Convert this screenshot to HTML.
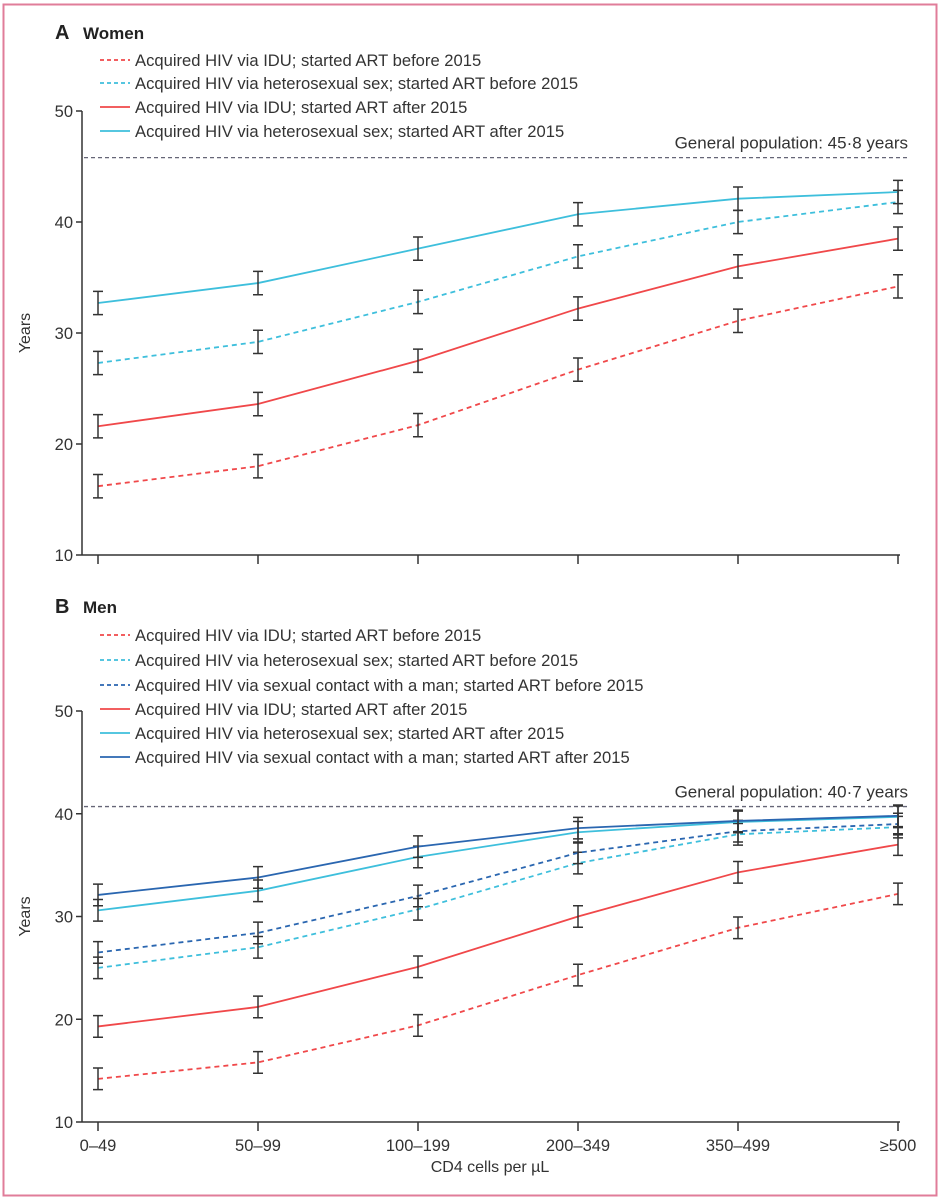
<!DOCTYPE html>
<html><head><meta charset="utf-8"><style>
body{margin:0;background:#fff}
svg{display:block;font-family:"Liberation Sans",sans-serif}
</style></head><body>
<svg id="s" width="941" height="1200" xmlns="http://www.w3.org/2000/svg">
<rect x="3.5" y="4.5" width="933" height="1191" fill="#fff" stroke="#e07d9a" stroke-width="2"/>
</svg>
<script>
const S=document.getElementById('s'),NS='http://www.w3.org/2000/svg';
function el(t,a,txt){const e=document.createElementNS(NS,t);for(const k in a)e.setAttribute(k,a[k]);if(txt!=null)e.textContent=txt;S.appendChild(e);return e;}
const xs=[98,258,418,578,738,898];
const R='#f0484a',L='#3ebfdc',D='#2a66b0';
function panel(top,bot,legend,gen,series,xlabels){
  const y=v=>top+(50-v)*(bot-top)/40;
  el('line',{x1:82,y1:top,x2:82,y2:bot,stroke:'#333','stroke-width':1.5});
  el('line',{x1:82,y1:bot,x2:900,y2:bot,stroke:'#333','stroke-width':1.5});
  [10,20,30,40,50].forEach(v=>{el('line',{x1:76,y1:y(v),x2:82,y2:y(v),stroke:'#333','stroke-width':1.5});
    el('text',{x:73,y:y(v)+6,'font-size':16.5,'text-anchor':'end',fill:'#333'},v);});
  xs.forEach(x=>el('line',{x1:x,y1:bot,x2:x,y2:bot+9,stroke:'#333','stroke-width':1.5}));
  el('text',{x:30,y:(top+bot)/2,'font-size':16,fill:'#333','text-anchor':'middle',transform:`rotate(-90 30 ${(top+bot)/2})`},'Years');
  el('line',{x1:84,y1:y(gen),x2:910,y2:y(gen),stroke:'#667','stroke-width':1.3,'stroke-dasharray':'4 3'});
  el('text',{x:908,y:y(gen)-9,'font-size':17,'text-anchor':'end',fill:'#333'},'General population: '+String(gen).replace('.','·')+' years');
  series.forEach(([c,dash,vals])=>{
    el('polyline',{points:vals.map((v,i)=>xs[i]+','+y(v)).join(' '),fill:'none',stroke:c,'stroke-width':1.8,'stroke-dasharray':dash?'5 4':'none'});
    vals.forEach((v,i)=>{const e=(bot-top)/40*1.05;const x=xs[i];
      el('path',{d:`M${x},${y(v)-e}V${y(v)+e}M${x-5},${y(v)-e}H${x+5}M${x-5},${y(v)+e}H${x+5}`,stroke:'#333','stroke-width':1.5,fill:'none'});});
  });
  if(xlabels){const n=['0–49','50–99','100–199','200–349','350–499','≥500'];
    xs.forEach((x,i)=>el('text',{x:x,y:bot+29,'font-size':16.5,'text-anchor':'middle',fill:'#333'},n[i]));
    el('text',{x:490,y:bot+50,'font-size':16,'text-anchor':'middle',fill:'#333'},'CD4 cells per µL');}
  legend.forEach(([c,dash,t,ly])=>{
    el('line',{x1:100,y1:ly,x2:130,y2:ly,stroke:c,'stroke-width':1.8,'stroke-dasharray':dash?'4 3':'none'});
    el('text',{x:135,y:ly+6,'font-size':16.6,fill:'#333'},t);});
}
el('text',{x:55,y:39,'font-size':20,'font-weight':'bold',fill:'#222'},'A');
el('text',{x:83,y:39,'font-size':17,'font-weight':'bold',fill:'#222'},'Women');
el('text',{x:55,y:613,'font-size':20,'font-weight':'bold',fill:'#222'},'B');
el('text',{x:83,y:613,'font-size':17,'font-weight':'bold',fill:'#222'},'Men');
panel(111,555,[
 [R,1,'Acquired HIV via IDU; started ART before 2015',60],
 [L,1,'Acquired HIV via heterosexual sex; started ART before 2015',83],
 [R,0,'Acquired HIV via IDU; started ART after 2015',107],
 [L,0,'Acquired HIV via heterosexual sex; started ART after 2015',131]],45.8,[
 [R,1,[16.2,18.0,21.7,26.7,31.1,34.2]],
 [L,1,[27.3,29.2,32.8,36.9,40.0,41.8]],
 [R,0,[21.6,23.6,27.5,32.2,36.0,38.5]],
 [L,0,[32.7,34.5,37.6,40.7,42.1,42.7]]],false);
panel(711,1122,[
 [R,1,'Acquired HIV via IDU; started ART before 2015',635],
 [L,1,'Acquired HIV via heterosexual sex; started ART before 2015',660],
 [D,1,'Acquired HIV via sexual contact with a man; started ART before 2015',685],
 [R,0,'Acquired HIV via IDU; started ART after 2015',709],
 [L,0,'Acquired HIV via heterosexual sex; started ART after 2015',733],
 [D,0,'Acquired HIV via sexual contact with a man; started ART after 2015',757]],40.7,[
 [R,1,[14.2,15.8,19.4,24.3,28.9,32.2]],
 [L,1,[25.0,27.0,30.7,35.2,38.0,38.7]],
 [D,1,[26.5,28.4,32.0,36.2,38.3,39.0]],
 [R,0,[19.3,21.2,25.1,30.0,34.3,37.0]],
 [L,0,[30.6,32.5,35.8,38.2,39.2,39.7]],
 [D,0,[32.1,33.8,36.8,38.6,39.3,39.8]]],true);
</script>
</body></html>
